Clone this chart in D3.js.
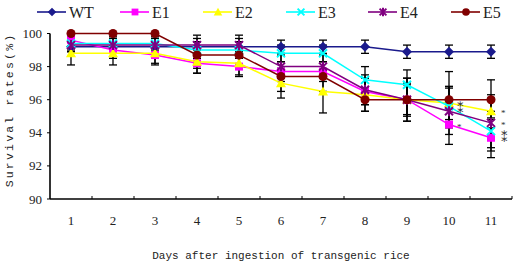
<!DOCTYPE html>
<html><head><meta charset="utf-8">
<script src="https://cdn.jsdelivr.net/npm/d3@7"></script>
<style>body{margin:0;background:#fff}svg{display:block}</style>
</head><body>
<script>
const days = [1,2,3,4,5,6,7,8,9,10,11];
const seriesNames = ["WT","E1","E2","E3","E4","E5"];
const WT = [99.2,99.2,99.2,99.2,99.2,99.2,99.2,99.2,98.9,98.9,98.9];
const E1 = [99.6,99.0,98.7,98.2,98.0,97.7,97.7,96.5,96.0,94.5,93.7];
const E2 = [98.8,98.8,98.8,98.3,98.2,97.0,96.5,96.3,96.0,95.8,95.3];
const E3 = [99.4,99.4,99.4,99.0,99.0,98.8,98.8,97.2,96.9,95.6,94.1];
const E4 = [99.3,99.3,99.3,99.3,99.3,98.0,98.0,96.6,96.0,95.3,94.6];
const E5 = [100,100,100,98.7,98.7,97.4,97.4,96.0,96.0,96.0,96.0];
const WTerr = [0.3,0.3,0.3,0.5,0.5,0.4,0.4,0.4,0.4,0.4,0.4];
const E1err = [0.4,0.5,0.5,0.6,0.6,0.6,0.6,0.8,0.9,1.2,1.2];
const E2err = [0.7,0.7,0.7,0.7,0.7,0.9,1.3,1.0,1.3,1.0,1.0];
const E3err = [0.4,0.4,0.4,0.5,0.5,0.5,0.5,0.8,0.9,1.2,1.2];
const E4err = [0.4,0.4,0.4,0.6,0.6,0.7,0.7,0.9,1.0,1.4,1.5];
const E5err = [0,0,0,0.8,0.8,0.9,0.9,0.7,1.3,1.7,1.2];
const yTicks = [90,92,94,96,98,100];
// "⁑" = two asterisks stacked vertically (**)
const annotations = [
  {day:10, series:"E3", label:"\u2051"},
  {day:10, series:"E1", label:"*"},
  {day:11, series:"E2", label:"*"},
  {day:11, series:"E4", label:"*"},
  {day:11, series:"E1", label:"\u2051"}
];

const values = {WT,E1,E2,E3,E4,E5};
const errs = {WT:WTerr,E1:E1err,E2:E2err,E3:E3err,E4:E4err,E5:E5err};
const colors = {WT:"#1a1a8c",E1:"#ff00ff",E2:"#ffff00",E3:"#00ffff",E4:"#800080",E5:"#800000"};

const SERIF='"Liberation Serif", "Times New Roman", serif';
const MONO='"Liberation Mono", monospace';

const W=517,H=267;
const svg=d3.select("body").append("svg").attr("width",W).attr("height",H);
const x=d3.scaleBand().domain(days).range([50,512]).padding(0);
const y=d3.scaleLinear().domain([90,100]).range([199,33.5]);
const cx=d=>x(d)+x.bandwidth()/2;

// axes
svg.append("line").attr("x1",50).attr("x2",512).attr("y1",y(90)).attr("y2",y(90)).attr("stroke","#000").attr("stroke-width",1.6);
svg.append("line").attr("x1",50).attr("x2",50).attr("y1",y(90)).attr("y2",y(100)).attr("stroke","#000").attr("stroke-width",1.6);
days.forEach(d=>{
  svg.append("line").attr("x1",x(d)+x.bandwidth()).attr("x2",x(d)+x.bandwidth()).attr("y1",y(90)).attr("y2",y(90)-3).attr("stroke","#000").attr("stroke-width",1);
  svg.append("text").style("font-family",SERIF).attr("x",cx(d)).attr("y",225).attr("text-anchor","middle")
    .attr("font-size",13).attr("fill","#222").text(d);
});
yTicks.forEach(t=>{
  svg.append("line").attr("x1",47).attr("x2",50).attr("y1",y(t)).attr("y2",y(t)).attr("stroke","#000");
  svg.append("text").style("font-family",SERIF).attr("x",42).attr("y",y(t)+4.5).attr("text-anchor","end")
    .attr("font-size",13).attr("fill","#222").text(t);
});
svg.append("text").style("font-family",MONO).attr("x",281).attr("y",259).attr("text-anchor","middle")
  .attr("font-size",11).attr("fill","#222")
  .text("Days after ingestion of transgenic rice");
svg.append("text").style("font-family",MONO).attr("transform","translate(13,110) rotate(-90)").attr("text-anchor","middle")
  .attr("font-size",11.5).attr("letter-spacing",2.2).attr("fill","#222")
  .text("Survival rates(%)");

function marker(g,name,px,py,s){
  s=s||1;
  const c=colors[name];
  if(name==="WT"){
    g.append("path").attr("d",`M${px},${py-5*s}L${px+5*s},${py}L${px},${py+5*s}L${px-5*s},${py}Z`).attr("fill",c);
  } else if(name==="E1"){
    g.append("rect").attr("x",px-4*s).attr("y",py-4*s).attr("width",8*s).attr("height",8*s).attr("fill",c);
  } else if(name==="E2"){
    g.append("path").attr("d",`M${px},${py-5*s}L${px+5*s},${py+4*s}L${px-5*s},${py+4*s}Z`).attr("fill",c);
  } else if(name==="E3"){
    g.append("path").attr("d",`M${px-4*s},${py-4*s}L${px+4*s},${py+4*s}M${px-4*s},${py+4*s}L${px+4*s},${py-4*s}`).attr("stroke",c).attr("stroke-width",2);
  } else if(name==="E4"){
    g.append("path").attr("d",`M${px-4*s},${py-4*s}L${px+4*s},${py+4*s}M${px-4*s},${py+4*s}L${px+4*s},${py-4*s}M${px},${py-5*s}L${px},${py+5*s}`).attr("stroke",c).attr("stroke-width",2);
  } else {
    g.append("circle").attr("cx",px).attr("cy",py).attr("r",4.5*s).attr("fill",c);
  }
}

// error bars
const eg=svg.append("g");
seriesNames.forEach(n=>{
  days.forEach((d,i)=>{
    const e=errs[n][i]; if(!e) return;
    const v=values[n][i], px=cx(d);
    const y1=y(Math.min(100,v+e)), y2=y(v-e);
    eg.append("line").attr("x1",px).attr("x2",px).attr("y1",y1).attr("y2",y2).attr("stroke","#000").attr("stroke-width",1.3);
    [y1,y2].forEach(yy=>eg.append("line").attr("x1",px-4).attr("x2",px+4).attr("y1",yy).attr("y2",yy).attr("stroke","#000").attr("stroke-width",1.3));
  });
});

// lines and markers
const line=d3.line().x((v,i)=>cx(days[i])).y(v=>y(v));
seriesNames.forEach(n=>{
  const g=svg.append("g");
  g.append("path").attr("d",line(values[n])).attr("fill","none").attr("stroke",colors[n]).attr("stroke-width",1.5);
  days.forEach((d,i)=>marker(g,n,cx(d),y(values[n][i])));
});

// significance asterisks
annotations.forEach(a=>{
  const i=days.indexOf(a.day);
  const cy=y(values[a.series][i]);
  const double=a.label!=="*";
  const t=svg.append("text").attr("x",cx(a.day)+(a.day===11?10:8)).attr("text-anchor","start").attr("fill","#333");
  if(double){
    t.style("font-family",'"DejaVu Sans", sans-serif').attr("font-size",13).attr("y",a.day===11?cy+4:cy+7);
  } else {
    t.style("font-family",SERIF).attr("font-size",9).attr("y",cy+5);
  }
  t.text(a.label);
});

// legend
const legendX={WT:37,E1:120,E2:203,E3:286,E4:368,E5:451};
seriesNames.forEach(n=>{
  const lx=legendX[n], ly=12;
  svg.append("line").attr("x1",lx).attr("x2",lx+29).attr("y1",ly).attr("y2",ly).attr("stroke",colors[n]).attr("stroke-width",1.6);
  marker(svg,n,lx+15,ly,0.85);
  svg.append("text").style("font-family",SERIF).attr("x",lx+32).attr("y",ly+6).attr("font-size",16).attr("fill","#222").text(n);
});
</script>
</body></html>
